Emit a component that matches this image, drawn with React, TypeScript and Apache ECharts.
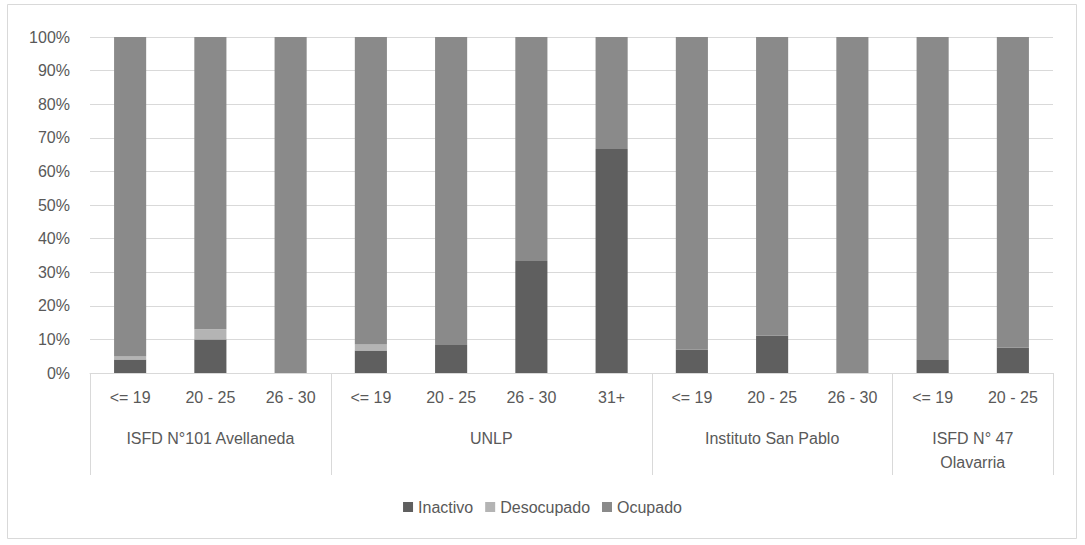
import React, { useEffect, useRef } from "react";
import * as echarts from "echarts";

const categories = ["<= 19", "20 - 25", "26 - 30", "<= 19", "20 - 25", "26 - 30", "31+", "<= 19", "20 - 25", "26 - 30", "<= 19", "20 - 25"];
const groupNames = ["ISFD N°101 Avellaneda", "UNLP", "Instituto San Pablo", "ISFD N° 47\nOlavarria"];
const groupSizes = [3, 4, 3, 2];

const inactivo = [4.0, 10.0, 0, 6.7, 8.3, 33.3, 66.7, 6.9, 11.1, 0, 3.9, 7.5];
const desocupado = [0.9, 3.0, 0, 1.8, 0, 0, 0, 0, 0, 0, 0, 0];
const ocupado = [95.1, 87.0, 100, 91.5, 91.7, 66.7, 33.3, 93.1, 88.9, 100, 96.1, 92.5];

const yTicks = [0, 10, 20, 30, 40, 50, 60, 70, 80, 90, 100];

export default function App() {
  const ref = useRef<HTMLDivElement>(null);
  useEffect(() => {
    if (!ref.current) return;
    const chart = echarts.init(ref.current, undefined, { renderer: "svg" });
    const bounds: number[] = [0];
    const centers: number[] = [];
    const labelMap: Record<string, string> = {};
    let acc = 0;
    groupSizes.forEach((s, i) => {
      const c = acc + s / 2;
      centers.push(c);
      labelMap[String(c)] = groupNames[i];
      acc += s;
      bounds.push(acc);
    });
    const font = "Liberation Sans";
    const txt = "#595959";
    const grid = "#d9d9d9";
    const fs = 16;
    chart.setOption({
      animation: false,
      backgroundColor: "#ffffff",
      textStyle: { fontFamily: font },
      grid: { left: 90, right: 32, top: 37, bottom: 172 },
      legend: {
        top: 494,
        left: "center",
        icon: "rect",
        itemWidth: 10,
        itemHeight: 10,
        itemGap: 12,
        textStyle: { color: txt, fontSize: fs, fontFamily: font },
        data: ["Inactivo", "Desocupado", "Ocupado"],
      },
      graphic: [
        {
          type: "rect",
          shape: { x: 7.5, y: 4.5, width: 1069, height: 534 },
          style: { fill: "none", stroke: grid, lineWidth: 1 },
          silent: true,
        },
      ],
      xAxis: [
        {
          type: "category",
          data: categories,
          axisLine: { show: true, lineStyle: { color: grid } },
          axisTick: { show: false },
          axisLabel: { color: txt, fontSize: fs, margin: 16, interval: 0, fontFamily: font },
        },
        {
          type: "value",
          position: "bottom",
          min: 0,
          max: categories.length,
          axisLine: { show: false },
          splitLine: { show: false },
          axisTick: { show: true, customValues: bounds, length: 102, lineStyle: { color: grid } },
          axisLabel: {
            customValues: centers,
            color: txt,
            fontSize: fs,
            margin: 53,
            lineHeight: 24,
            verticalAlign: "top",
            fontFamily: font,
            formatter: (v: number) => labelMap[String(v)] ?? "",
          },
        },
      ],
      yAxis: {
        type: "value",
        min: yTicks[0],
        max: yTicks[yTicks.length - 1],
        interval: 10,
        axisLine: { show: false },
        axisTick: { show: false },
        splitLine: { lineStyle: { color: grid } },
        axisLabel: { color: txt, fontSize: fs, margin: 20, formatter: "{value}%", fontFamily: font },
      },
      series: [
        { name: "Inactivo", type: "bar", stack: "t", data: inactivo, barWidth: "40%", itemStyle: { color: "#5f5f5f" } },
        { name: "Desocupado", type: "bar", stack: "t", data: desocupado, barWidth: "40%", itemStyle: { color: "#b4b4b4" } },
        { name: "Ocupado", type: "bar", stack: "t", data: ocupado, barWidth: "40%", itemStyle: { color: "#8a8a8a" } },
      ],
    });
    return () => chart.dispose();
  }, []);
  return <div ref={ref} style={{ position: "fixed", left: 0, top: 0, width: 1085, height: 545 }} />;
}
